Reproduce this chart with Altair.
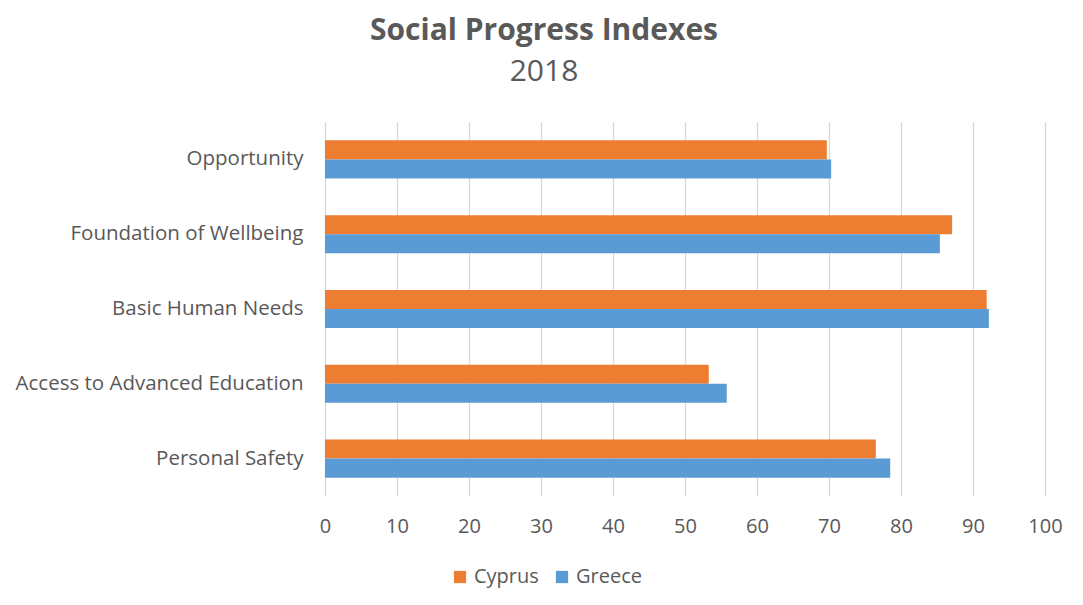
import altair as alt
import pandas as pd

categories = ["Opportunity", "Foundation of Wellbeing", "Basic Human Needs",
              "Access to Advanced Education", "Personal Safety"]
cyprus = [69.7, 87.1, 91.9, 53.3, 76.5]
greece = [70.3, 85.4, 92.2, 55.8, 78.5]
series = ["Cyprus", "Greece"]
colors = ["#ED7D31", "#5B9BD5"]

rows = []
for c, cy, gr in zip(categories, cyprus, greece):
    rows.append({"Category": c, "Country": "Cyprus", "Value": cy})
    rows.append({"Category": c, "Country": "Greece", "Value": gr})
df = pd.DataFrame(rows)

FONT = "Open Sans"
GREY = "#595959"

chart = alt.Chart(df).mark_bar().encode(
    y=alt.Y("Category:N", sort=categories, title=None,
            scale=alt.Scale(paddingInner=0.49, paddingOuter=0.245),
            axis=alt.Axis(domain=False, ticks=False, labelFontSize=20.5,
                          labelColor=GREY, labelFont=FONT, labelPadding=22,
                          labelLimit=400)),
    yOffset=alt.YOffset("Country:N", sort=series),
    x=alt.X("Value:Q", title=None,
            scale=alt.Scale(domain=[0, 100], nice=False),
            axis=alt.Axis(values=list(range(0, 101, 10)), domain=False, ticks=False,
                          labelFontSize=20, labelColor=GREY, labelFont=FONT,
                          labelFlush=False, labelPadding=20,
                          gridColor="#D9D9D9", gridWidth=1.3)),
    color=alt.Color("Country:N", sort=series,
                    scale=alt.Scale(domain=series, range=colors),
                    legend=alt.Legend(title=None, orient="none", direction="horizontal",
                                      legendX=125, legendY=445, symbolType="square",
                                      symbolSize=150, labelFontSize=20, labelColor=GREY,
                                      labelFont=FONT, columnPadding=13, labelOffset=4,
                                      symbolStrokeWidth=0)),
).properties(
    width=720, height=374,
    title=alt.Title("Social Progress Indexes", subtitle="2018",
                    fontSize=30, fontWeight="bold", color=GREY, font=FONT,
                    subtitleFontSize=30, subtitleColor=GREY, subtitleFont=FONT,
                    subtitlePadding=11, anchor="middle", dx=-141, offset=35),
    autosize=alt.AutoSizeParams(type="none"),
    padding={"left": 317, "top": 114, "right": 30, "bottom": 95},
).configure_view(stroke=None)

chart.save("out.html", embed_options={"renderer": "svg", "actions": False})
